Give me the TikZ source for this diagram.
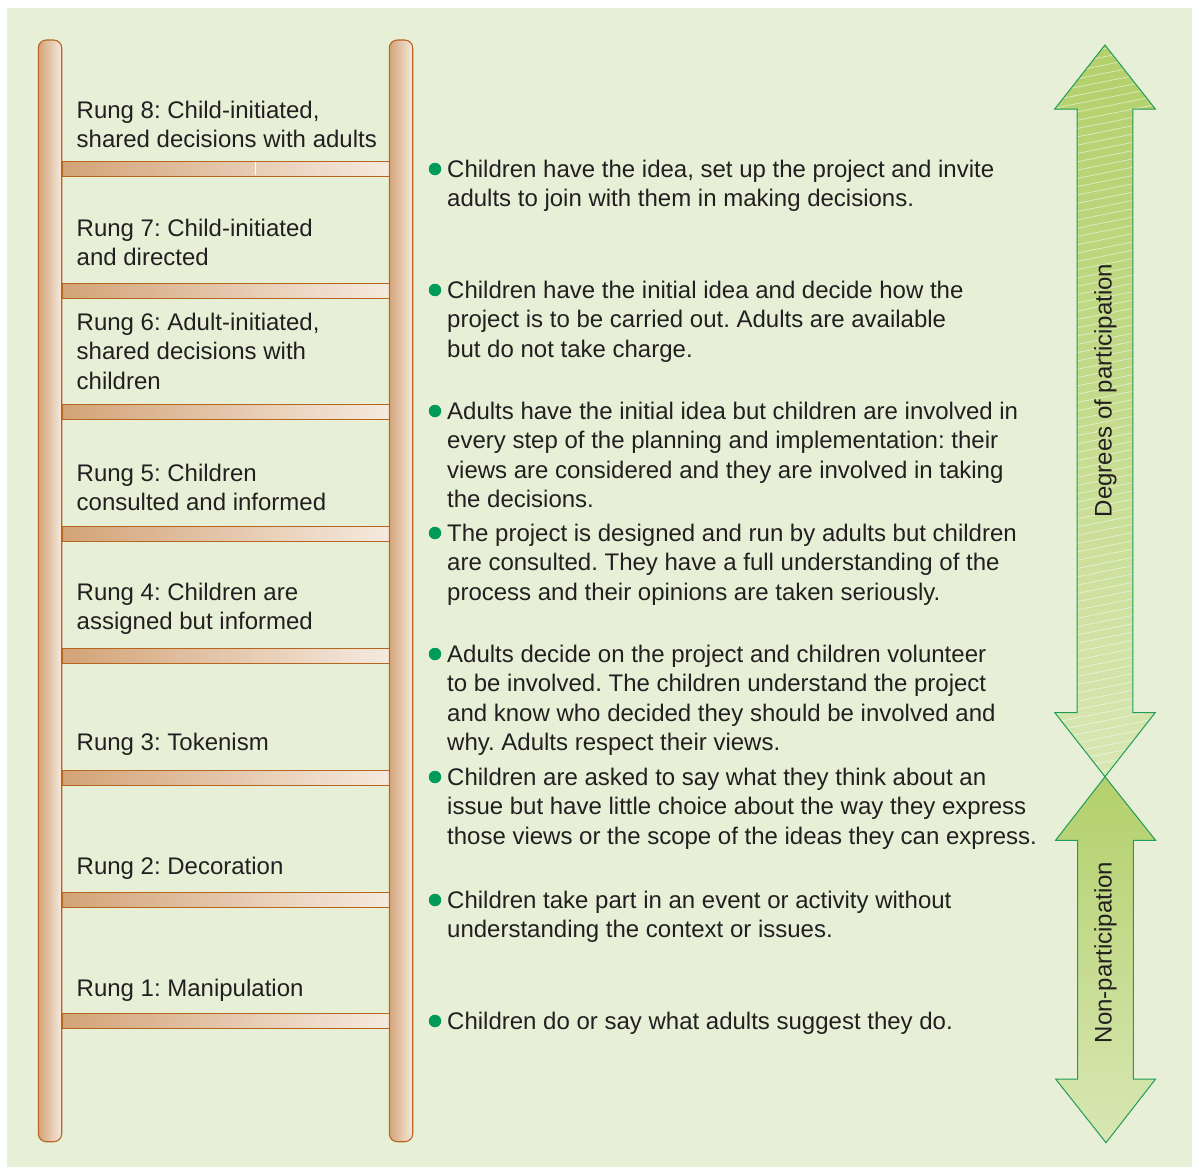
\documentclass[tikz,border=0pt]{standalone}
\usepackage{fontspec}
\setmainfont{Liberation Sans}
\frenchspacing
\definecolor{bg}{HTML}{E7F0D7}
\definecolor{wood}{HTML}{B8651E}
\definecolor{woodD}{HTML}{D3A377}
\definecolor{woodL}{HTML}{F5EADF}
\definecolor{txt}{HTML}{231F20}
\definecolor{dotc}{HTML}{009B5B}
\definecolor{arrline}{HTML}{1E9C5A}
\definecolor{grD}{HTML}{B3D06B}
\definecolor{grM}{HTML}{C4DB8C}
\definecolor{grL}{HTML}{D8E7B4}
\newcommand{\tb}[1]{\parbox[t]{640pt}{\frenchspacing\raggedright #1}}
\tikzset{
  lbl/.style={font=\fontsize{24}{29.3}\selectfont, text=txt, inner sep=0pt, anchor=base west},
  rungbox/.style={draw=wood, line width=1.1pt, left color=woodD, right color=woodL,
     minimum width=328pt, minimum height=15pt, inner sep=0pt, anchor=north west},
  railbox/.style={draw=wood, line width=1.1pt, left color=woodD, right color=woodL,
     rounded corners=8pt, minimum width=23.4pt, minimum height=1101.7pt, inner sep=0pt},
  bul/.style={circle, fill=dotc, minimum size=12.5pt, inner sep=0pt},
  arrlbl/.style={font=\fontsize{24}{29.3}\selectfont, text=txt, inner sep=0pt, rotate=90, anchor=base},
  arrout/.style={draw=arrline, line width=1pt}
}
\begin{document}
\begin{tikzpicture}[x=1pt,y=-1pt]
\useasboundingbox (0,0) rectangle (1192,1167);
\fill[bg] (7,8) rectangle (1192,1167);

% rungs
\foreach \i/\y in {8/160.7,7/282.5,6/404.3,5/526.1,4/647.9,3/769.7,2/891.5,1/1013.3}{
  \node[rungbox] (rung\i) at (61.7,\y) {};
}
\draw[white, line width=0.8pt] (255,161.5) -- (255,175);
% rails
\node[railbox] (railL) at (50,590.85) {};
\node[railbox] (railR) at (401,590.85) {};

% rung labels
\node[lbl] (r8) at (76.5,118.5) {\tb{Rung 8: Child-initiated,\\shared decisions with adults}};
\node[lbl] (r7) at (76.5,236.5) {\tb{Rung 7: Child-initiated\\and directed}};
\node[lbl] (r6) at (76.5,330.5) {\tb{Rung 6: Adult-initiated,\\shared decisions with\\children}};
\node[lbl] (r5) at (76.5,481.5) {\tb{Rung 5: Children\\consulted and informed}};
\node[lbl] (r4) at (76.5,600.5) {\tb{Rung 4: Children are\\assigned but informed}};
\node[lbl] (r3) at (76.5,750.5) {\tb{Rung 3: Tokenism}};
\node[lbl] (r2) at (76.5,874.5) {\tb{Rung 2: Decoration}};
\node[lbl] (r1) at (76.5,996.5) {\tb{Rung 1: Manipulation}};

% bullets
\foreach \i/\y in {1/169,2/290,3/411,4/533,5/654,6/777,7/900,8/1021}{
  \node[bul] (d\i) at (435,\y) {};
}
\node[lbl] (b1) at (447,177.5) {\tb{Children have the idea, set up the project and invite\\adults to join with them in making decisions.}};
\node[lbl] (b2) at (447,298.5) {\tb{Children have the initial idea and decide how the\\project is to be carried out. Adults are available\\but do not take charge.}};
\node[lbl] (b3) at (447,419.5) {\tb{Adults have the initial idea but children are involved in\\every step of the planning and implementation: their\\views are considered and they are involved in taking\\the decisions.}};
\node[lbl] (b4) at (447,541.5) {\tb{The project is designed and run by adults but children\\are consulted. They have a full understanding of the\\process and their opinions are taken seriously.}};
\node[lbl] (b5) at (447,662.5) {\tb{Adults decide on the project and children volunteer\\to be involved. The children understand the project\\and know who decided they should be involved and\\why. Adults respect their views.}};
\node[lbl] (b6) at (447,785.5) {\tb{Children are asked to say what they think about an\\issue but have little choice about the way they express\\those views or the scope of the ideas they can express.}};
\node[lbl] (b7) at (447,908.5) {\tb{Children take part in an event or activity without\\understanding the context or issues.}};
\node[lbl] (b8) at (447,1029.5) {\tb{Children do or say what adults suggest they do.}};

% upper arrow (degrees of participation)
\def\uparr{(1105,45) -- (1155.3,109) -- (1132.8,109) -- (1132.8,712.5) -- (1155.3,712.5) -- (1105,776.7) -- (1054.7,712.5) -- (1077,712.5) -- (1077,109) -- (1054.7,109) -- cycle}
\shade[top color=grD, bottom color=grL, middle color=grM] \uparr;
\begin{scope}
  \clip \uparr;
  \foreach \k in {0,...,95}{
    \draw[white, opacity=0.55, line width=0.7pt] (1045,{40+8.3*\k+12}) -- (1165,{40+8.3*\k-12});
  }
\end{scope}
\draw[arrout] \uparr;

% lower arrow (non-participation)
\def\loarr{(1105,776.7) -- (1155.6,840.3) -- (1133.3,840.3) -- (1133.3,1079) -- (1155.6,1079) -- (1106,1142.7) -- (1055.6,1079) -- (1077.7,1079) -- (1077.7,840.3) -- (1055.6,840.3) -- cycle}
\shade[top color=grD, bottom color=grL] \loarr;
\draw[arrout] \loarr;

\node[arrlbl] (dp) at (1111.7,390.5) {Degrees of participation};
\node[arrlbl] (np) at (1111.7,952.5) {Non-participation};
\end{tikzpicture}
\end{document}
